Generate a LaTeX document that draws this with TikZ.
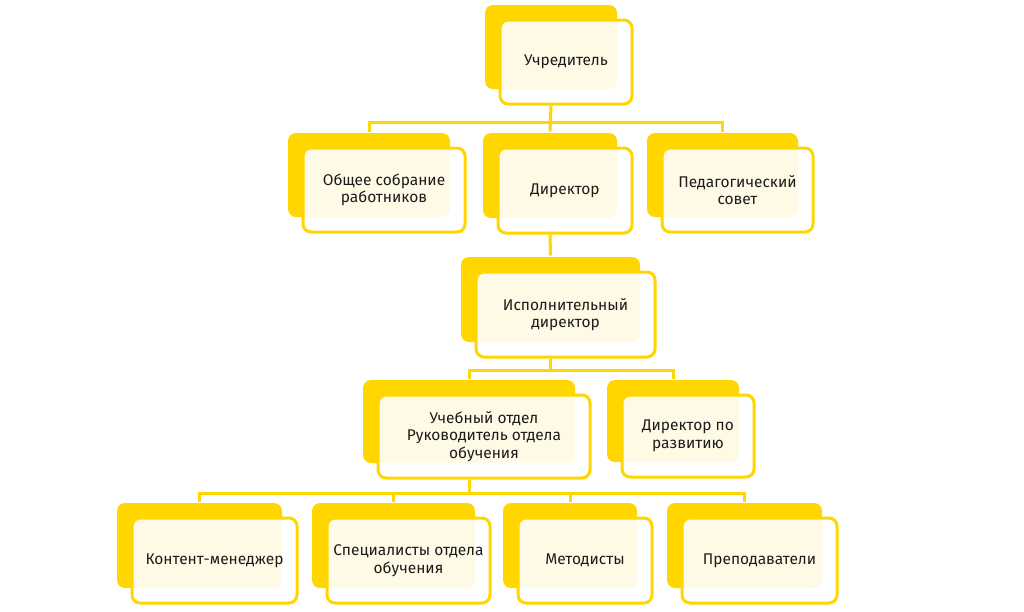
\documentclass[tikz,border=0pt]{standalone}
\usepackage{fontspec}
\setmainfont{Fira Sans}
\usetikzlibrary{shadows,backgrounds}
\definecolor{ylw}{RGB}{255,214,0}
\definecolor{txt}{RGB}{28,28,28}
\tikzset{
  org/.style={draw=ylw, line width=3pt, rounded corners=8pt, fill=white, fill opacity=0.9, text opacity=1,
    text=txt, align=center, inner sep=0pt, font=\fontsize{15.5}{17.5}\selectfont,
    general shadow={shadow xshift=-15pt, shadow yshift=15pt, fill=ylw, draw=none, fill opacity=1}},
  conn/.style={draw=ylw, line width=3pt},
  bk/.style={shift={(-15pt,15pt)}}
}
\begin{document}
\begin{tikzpicture}[x=1pt,y=1pt]
\useasboundingbox (0,0) rectangle (1024,-611);
\node[org, minimum width=132pt, minimum height=84pt] (u) at (566,-62) {Учредитель};
\node[org, minimum width=162pt, minimum height=84pt] (g) at (384,-190) {Общее собрание\\работников};
\node[org, minimum width=134pt, minimum height=85pt] (d) at (565,-190.5) {Директор};
\node[org, minimum width=151pt, minimum height=84pt] (p) at (737.5,-190) {Педагогический\\совет};
\node[org, minimum width=179pt, minimum height=85pt] (e) at (565.5,-314.5) {Исполнительный\\директор};
\node[org, minimum width=212pt, minimum height=83pt] (t) at (484,-436.5) {Учебный отдел\\Руководитель отдела\\обучения};
\node[org, minimum width=132pt, minimum height=82pt] (r) at (688,-436) {Директор по\\развитию};
\node[org, minimum width=165pt, minimum height=85pt] (k) at (214.5,-560.5) {Контент-менеджер};
\node[org, minimum width=163pt, minimum height=85pt] (s) at (408.5,-560.5) {Специалисты отдела\\обучения};
\node[org, minimum width=134pt, minimum height=85pt] (m) at (585,-560.5) {Методисты};
\node[org, minimum width=155pt, minimum height=85pt] (pr) at (759.5,-560.5) {Преподаватели};
% bus levels
\coordinate (b1) at (0,-122);
\coordinate (b2) at (0,-370);
\coordinate (b3) at (0,-493);
% tops of the back boxes and feet of the front boxes
\foreach \n in {d,g,p,e,t,r,k,s,m,pr} {\coordinate (top-\n) at ([bk]\n.north);}
\foreach \n in {u,d,e,t} {\coordinate (foot-\n) at ([xshift=-15pt]\n.south);}
\begin{scope}[on background layer]
\draw[conn] (foot-u) -- (top-d);
\draw[conn] (top-g) -- (top-g |- b1) -- (top-p |- b1) -- (top-p);
\draw[conn] (foot-d) -- (top-e);
\draw[conn] (foot-e) -- (foot-e |- b2);
\draw[conn] (top-t) -- (top-t |- b2) -- (top-r |- b2) -- (top-r);
\draw[conn] (foot-t) -- (foot-t |- b3);
\draw[conn] (top-k) -- (top-k |- b3) -- (top-pr |- b3) -- (top-pr);
\draw[conn] (top-s) -- (top-s |- b3);
\draw[conn] (top-m) -- (top-m |- b3);
\end{scope}
\end{tikzpicture}
\end{document}
